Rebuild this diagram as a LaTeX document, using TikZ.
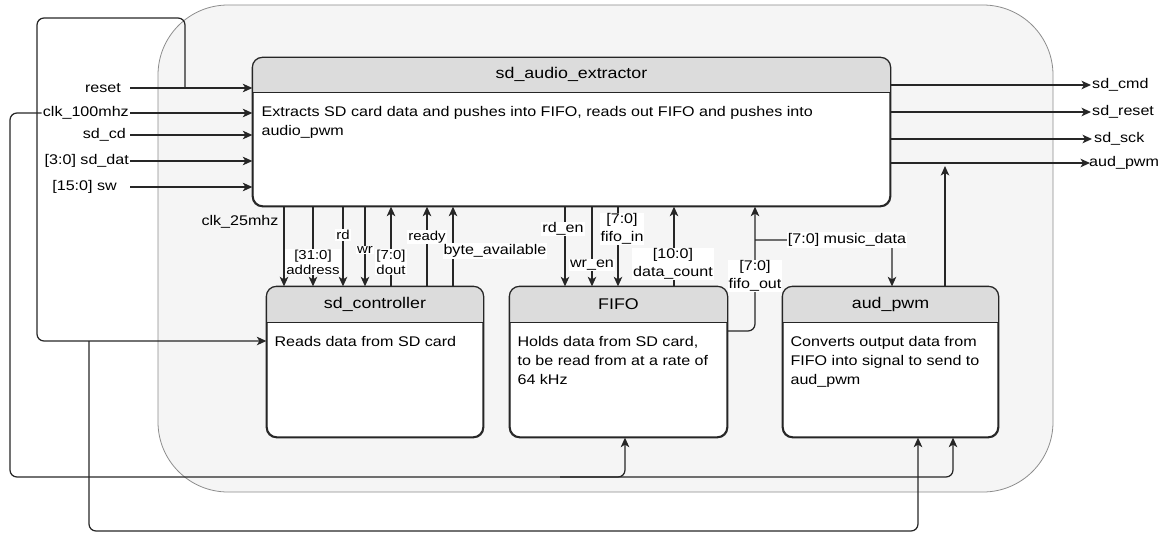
\documentclass[tikz,border=0pt]{standalone}
\usepackage{fontspec}
\setmainfont{Liberation Sans}[FakeStretch=1.15]
\usetikzlibrary{arrows.meta}

\definecolor{ink}{HTML}{262626}
\definecolor{hdr}{HTML}{DCDCDC}
\definecolor{panel}{HTML}{F5F5F5}
\definecolor{panelline}{HTML}{8C8C8C}

\tikzset{
  wire/.style={draw=ink, line width=1.25pt, rounded corners=7pt},
  arr/.style={wire, -{Stealth[length=9.5pt,width=8.5pt,inset=2.5pt]}},
  sig/.style={font=\fontsize{14}{18}\selectfont, inner xsep=1pt, inner ysep=1pt, align=center},
  sigs/.style={font=\fontsize{13}{15}\selectfont, inner xsep=1pt, inner ysep=1pt, align=center},
  tag/.style={sig, fill=white},
  tags/.style={sigs, fill=white},
  block/.style={draw=ink, line width=1.3pt, fill=white, rounded corners=10pt, inner sep=0pt},
  title/.style={font=\fontsize{15.5}{18}\selectfont, inner sep=0pt},
  body/.style={font=\fontsize{14}{19}\selectfont, align=left, anchor=north west, inner sep=0pt},
}

% block with a grey header band of height #2
\newcommand\headband[2]{%
  \begin{scope}
    \clip[rounded corners=10pt] (#1.north west) rectangle (#1.south east);
    \fill[hdr] (#1.north west) rectangle ([yshift=-#2]#1.north east);
  \end{scope}
  \draw[draw=ink, line width=1.3pt] ([yshift=-#2]#1.north west) -- ([yshift=-#2]#1.north east);
  \draw[draw=ink, line width=1.3pt, rounded corners=10pt] (#1.north west) rectangle (#1.south east);
}

\begin{document}
\begin{tikzpicture}[x=1pt, y=-1pt]
\useasboundingbox (0,0) rectangle (1168,535);

% top-level container
\node[draw=panelline, line width=0.8pt, fill=panel, rounded corners=70pt,
      minimum width=895pt, minimum height=487pt, inner sep=0pt] (chip) at (605.5,248.5) {};

% ---- blocks ----
\node[block, minimum width=637pt, minimum height=148pt] (ext) at (571.5,132) {};
\headband{ext}{35pt}
\node[title] (ext-t) at ([yshift=-17.5pt]ext.north) {sd\_audio\_extractor};
\node[body] (ext-b) at ([xshift=9pt, yshift=-49pt]ext.north west)
  {Extracts SD card data and pushes into FIFO, reads out FIFO and pushes into\\audio\_pwm};

\node[block, minimum width=216pt, minimum height=150pt] (sdc) at (375,362) {};
\headband{sdc}{36pt}
\node[title] (sdc-t) at ([yshift=-18pt]sdc.north) {sd\_controller};
\node[body] (sdc-b) at ([xshift=8pt, yshift=-50pt]sdc.north west) {Reads data from SD card};

\node[block, minimum width=217pt, minimum height=150pt] (fifo) at (618.5,362) {};
\headband{fifo}{36pt}
\node[title] (fifo-t) at ([yshift=-18pt]fifo.north) {FIFO};
\node[body] (fifo-b) at ([xshift=8pt, yshift=-50pt]fifo.north west)
  {Holds data from SD card,\\to be read from at a rate of\\64 kHz};

\node[block, minimum width=215pt, minimum height=150pt] (aud) at (890.5,362) {};
\headband{aud}{36pt}
\node[title] (aud-t) at ([yshift=-18pt]aud.north) {aud\_pwm};
\node[body] (aud-b) at ([xshift=8pt, yshift=-50pt]aud.north west)
  {Converts output data from\\FIFO into signal to send to\\aud\_pwm};

% ---- top-level inputs ----
\coordinate (i-rst) at (130,88);
\coordinate (i-clk) at (130,113);
\coordinate (i-cd)  at (130,135);
\coordinate (i-dat) at (130,161);
\coordinate (i-sw)  at (130,187);
\node[sig, anchor=east, xshift=-8pt] (l-rst) at (i-rst) {reset};
\node[sig, anchor=east] (l-clk) at (i-clk) {clk\_100mhz};
\node[sig, anchor=east, xshift=-3pt] (l-cd) at (i-cd) {sd\_cd};
\node[sig, anchor=east] (l-dat) at (i-dat) {[3:0] sd\_dat};
\node[sig, anchor=east, xshift=-12pt] (l-sw) at (i-sw) {[15:0] sw};
\foreach \p in {i-rst,i-clk,i-cd,i-dat,i-sw}
  \draw[arr] (\p) -- (ext.west |- \p);

% ---- top-level outputs ----
\coordinate (o-cmd) at (1091,85);
\coordinate (o-rst) at (1091,112);
\coordinate (o-sck) at (1092,139);
\coordinate (o-pwm) at (1090,163);
\node[sig, anchor=west] (l-cmd) at (o-cmd) {sd\_cmd};
\node[sig, anchor=west] (l-orst) at (o-rst) {sd\_reset};
\node[sig, anchor=west, xshift=1pt] (l-sck) at (o-sck) {sd\_sck};
\node[sig, anchor=west, xshift=-2pt] (l-pwm) at (o-pwm) {aud\_pwm};
\foreach \p in {o-cmd,o-rst,o-sck,o-pwm}
  \draw[arr] (ext.east |- \p) -- (\p);

% ---- reset fan-out ----
\coordinate (rst-br) at (185,88);
\coordinate (rst-j) at (89,341);
\draw[arr] (rst-br) -- (185,18) -- (37,18) -- (37,341) -- (sdc.west |- 0,341);
\draw[arr] (rst-j) -- (89,531) -| (aud.south -| 918,0);

% ---- clock fan-out ----
\coordinate (clk-j) at (560,477);
\draw[arr] (l-clk.west) -- (10,113) -- (10,477) -| (aud.south -| 953,0);
\draw[arr] (clk-j) -| (fifo.south -| 625,0);

% ---- extractor <-> sd_controller ----
\foreach \xx in {284,313,343,365}
  \draw[arr] (ext.south -| \xx,0) -- (sdc.north -| \xx,0);
\foreach \xx in {391,427,453}
  \draw[arr] (sdc.north -| \xx,0) -- (ext.south -| \xx,0);
\node[sig] (l-c25) at (240,222) {clk\_25mhz};
\node[tags] (l-addr) at (313,262) {[31:0]\\address};
\node[tags] (l-rd) at (343,235) {rd};
\node[tags] (l-wr) at (365,250) {wr};
\node[tags] (l-dout) at (391,262) {[7:0]\\dout};
\node[tags] (l-rdy) at (427,237) {ready};
\node[tag] (l-bav) at (495,251) {byte\_available};

% ---- extractor <-> FIFO ----
\foreach \xx in {565,592,618}
  \draw[arr] (ext.south -| \xx,0) -- (fifo.north -| \xx,0);
\draw[arr] (fifo.north -| 674,0) -- (ext.south -| 674,0);
\draw[arr] (fifo.east |- 0,331) -- (755,331) -- (ext.south -| 755,0);
\node[tag] (l-rden) at (563,229) {rd\_en};
\node[tag] (l-wren) at (592,265) {wr\_en};
\node[tag] (l-fin) at (622,229) {[7:0]\\fifo\_in};
\node[tag] (l-dc) at (673,264) {[10:0]\\data\_count};
\node[tag] (l-fout) at (755,276) {[7:0]\\fifo\_out};

% ---- FIFO data to aud_pwm, aud_pwm output ----
\coordinate (md-br) at (755,240);
\draw[arr] (md-br) -| (aud.north -| 892,0);
\node[tag] (l-md) at (847,240) {[7:0] music\_data};
\coordinate (pwm-j) at (945,166);
\draw[arr] (aud.north -| 945,0) -- (pwm-j);

\end{tikzpicture}
\end{document}
